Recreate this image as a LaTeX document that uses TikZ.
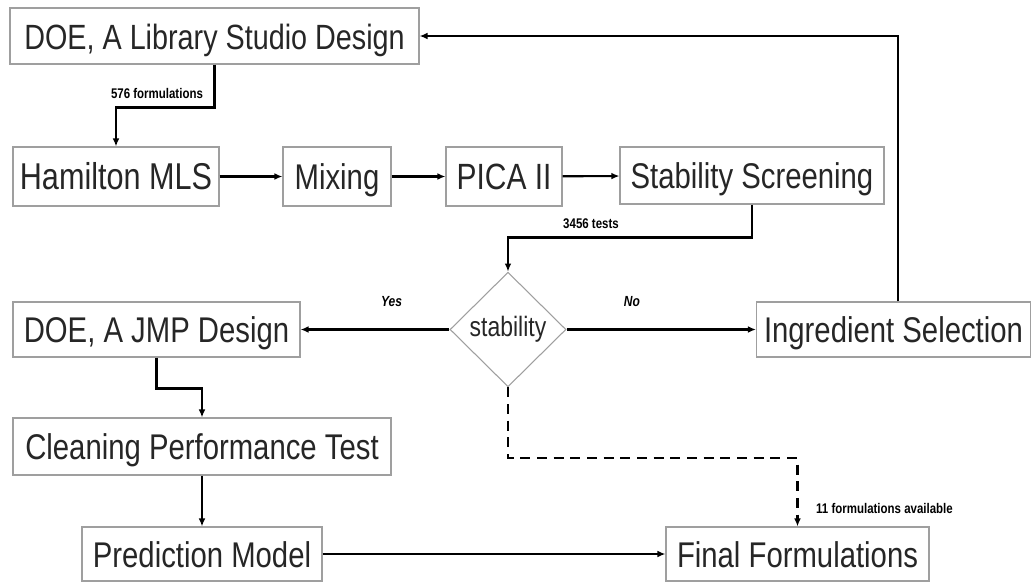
\documentclass[tikz,border=0pt]{standalone}
\usepackage{fontspec}
\setmainfont{Liberation Sans}[FakeStretch=0.82]
\usetikzlibrary{shapes.geometric,arrows.meta}

\tikzset{
  stepbox/.style={draw=gray!75, line width=0.8pt, text=black!85, inner sep=0pt,
    text height=19.5pt, text depth=0pt, font=\fontsize{26.8}{30}\selectfont},
  decision/.style={diamond, draw=gray!75, line width=0.8pt, text=black!85, inner sep=0pt,
    minimum width=87pt, minimum height=86pt, font=\fontsize{21}{24}\selectfont},
  flow/.style={line width=1.6pt, -{Latex[length=6pt,width=5pt]}},
  note/.style={inner sep=0pt, font=\fontsize{10.5}{12}\selectfont\bfseries},
}

\begin{document}
\begin{tikzpicture}
    % pixel grid, y running downwards
    \pgfsetxvec{\pgfpoint{0.75pt}{0}}
    \pgfsetyvec{\pgfpoint{0}{-0.75pt}}
    \useasboundingbox (0,0) rectangle (1031,582);

    \node[stepbox, minimum width=306.75pt, minimum height=42pt, font=\fontsize{26.3}{30}\selectfont] (lib) at (214.5,36) {DOE, A Library Studio Design};
    \node[stepbox, minimum width=154.5pt, minimum height=44.25pt, font=\fontsize{28}{30}\selectfont] (ham) at (116,176.5) {Hamilton MLS};
    \node[stepbox, minimum width=81pt, minimum height=44.25pt] (mix) at (337,176.5) {Mixing};
    \node[stepbox, minimum width=87pt, minimum height=44.25pt, font=\fontsize{27.4}{30}\selectfont] (pica) at (504,176.5) {PICA II};
    \node[stepbox, minimum width=198pt, minimum height=42.75pt] (screen) at (752,175.5) {Stability Screening};
    \node[decision] (stab) at (508,329.5) {stability};
    \node[stepbox, minimum width=215.25pt, minimum height=41.25pt] (jmp) at (156.5,329.5) {DOE, A JMP Design};
    \node[stepbox, minimum width=205.5pt, minimum height=41.25pt] (ingr) at (893.5,329.5) {Ingredient Selection};
    \node[stepbox, minimum width=283.5pt, minimum height=42.75pt] (clean) at (202,446.5) {Cleaning Performance Test};
    \node[stepbox, minimum width=180pt, minimum height=40.5pt] (pred) at (202,554) {Prediction Model};
    \node[stepbox, minimum width=197.25pt, minimum height=40.5pt] (final) at (797.5,554) {Final Formulations};

    \node[note] (nform) at (157,93) {576 formulations};
    \node[note] (ntests) at (591,224) {3456 tests};
    \node[note, font=\fontsize{11}{12}\selectfont\bfseries\itshape] (nyes) at (391.5,302) {Yes};
    \node[note, font=\fontsize{11}{12}\selectfont\bfseries\itshape] (nno) at (632,302) {No};
    \node[note] (navail) at (884.5,508) {11 formulations available};

    \draw[flow] (lib.south) -- ++(0,43) -| (ham.north);
    \draw[flow] (ham) -- (mix);
    \draw[flow] (mix) -- (pica);
    \draw[flow] (pica) -- (screen);
    \draw[flow] (screen.south) -- ++(0,33) -| (stab.north);
    \draw[flow] (stab.west) -- (jmp.east);
    \draw[flow] (stab.east) -- (ingr.west);
    \draw[flow] ([xshift=3.4pt]ingr.north) |- (lib.east);
    \draw[flow] (jmp.south) -- ++(0,31) -| (clean.north);
    \draw[flow] (clean.south) -- (pred.north);
    \draw[flow] (pred.east) -- (final.west);
    \draw[flow, dash pattern=on 7.5pt off 5pt] (stab.south) -- ++(0,71) -| (final.north);
  \end{tikzpicture}
\end{document}
